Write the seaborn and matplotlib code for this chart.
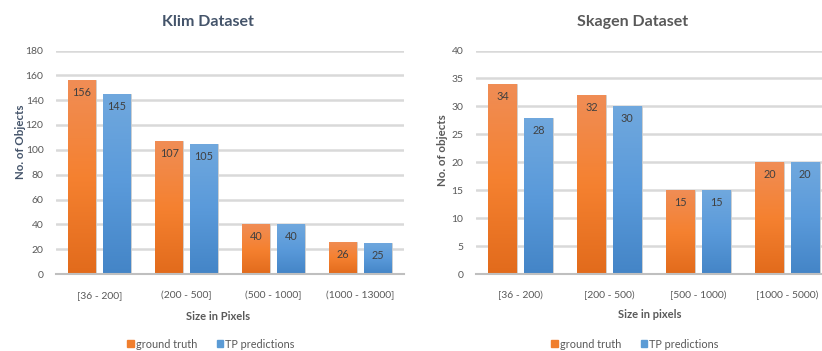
import numpy as np
import pandas as pd
import matplotlib
matplotlib.use("Agg")
import matplotlib.pyplot as plt
from matplotlib.colors import LinearSegmentedColormap
import seaborn as sns

# ---- data ----
klim_bins = ["[36 - 200]", "(200 - 500]", "(500 - 1000]", "(1000 - 13000]"]
klim_truth = [156, 107, 40, 26]
klim_tp = [145, 105, 40, 25]

skagen_bins = ["[36 - 200)", "[200 - 500)", "[500 - 1000)", "[1000 - 5000)"]
skagen_truth = [34, 32, 15, 20]
skagen_tp = [28, 30, 15, 20]

series = ["ground truth", "TP predictions"]

sns.set_theme(style="white")
plt.rcParams['font.family'] = ['Lato', 'DejaVu Sans']

ORANGE = "#F07F2E"
BLUE = "#5B9BD5"
grad = {
    ORANGE: LinearSegmentedColormap.from_list("o", ["#E26B1C", "#F58130", "#F08D55"]),
    BLUE: LinearSegmentedColormap.from_list("b", ["#4485C7", "#5A9ADA", "#70A8DE"]),
}


def make_df(bins, truth, tp):
    return pd.DataFrame({
        "bin": bins * 2,
        "count": truth + tp,
        "series": [series[0]] * len(bins) + [series[1]] * len(bins),
    })


def draw(ax, df, ymax, step):
    sns.barplot(data=df, x="bin", y="count", hue="series", ax=ax,
                palette=[ORANGE, BLUE], width=0.8, gap=0.2, legend=False,
                edgecolor="#D0D0D0", linewidth=0.6)
    ax.set_yticks(np.arange(0, ymax + 1, step))
    ax.yaxis.grid(True, color="#D9D9D9", linewidth=1.8)
    ax.set_axisbelow(True)
    for s in ["top", "right", "left"]:
        ax.spines[s].set_visible(False)
    ax.spines["bottom"].set_color("#BFBFBF")
    ax.spines["bottom"].set_linewidth(1.5)
    ax.tick_params(axis="both", length=0, labelsize=7.5, colors="#595959")
    ax.tick_params(axis="y", pad=9)
    ax.tick_params(axis="x", pad=12)
    ax.set_xlabel("")
    ax.set_ylabel("")
    # gradient fill of bars, like the Excel original
    for cont, col in zip(ax.containers, [ORANGE, BLUE]):
        for p in cont.patches:
            x0, y0 = p.get_x(), p.get_y()
            w, h = p.get_width(), p.get_height()
            im = ax.imshow(np.linspace(0, 1, 100).reshape(-1, 1), cmap=grad[col],
                           origin="lower", aspect="auto",
                           extent=[x0, x0 + w, y0, y0 + h], zorder=p.get_zorder() + 0.1)
            im.set_clip_path(p)
        ax.bar_label(cont, padding=-13, fontsize=7.8, color="#404040")
    ax.set_xlim(-0.5, 3.5)
    ax.set_ylim(0, ymax)


fig = plt.figure(figsize=(8.22, 3.51), dpi=100)
ax1 = fig.add_axes([56 / 822, 1 - 274 / 351, 348 / 822, 223.5 / 351])
ax2 = fig.add_axes([476 / 822, 1 - 274 / 351, 356 / 822, 223.5 / 351])

draw(ax1, make_df(klim_bins, klim_truth, klim_tp), 180, 20)
draw(ax2, make_df(skagen_bins, skagen_truth, skagen_tp), 40, 5)


def ftext(x, y, s, **kw):
    fig.text(x / 822, 1 - y / 351, s, ha="center", va="center", **kw)


ftext(208, 22, "Klim Dataset", fontsize=11.5, fontweight="bold", color="#44546A")
ftext(633, 22, "Skagen Dataset", fontsize=11.5, fontweight="bold", color="#595959")
ftext(218, 316, "Size in Pixels", fontsize=8, fontweight="bold", color="#595959")
ftext(650, 315, "Size in pixels", fontsize=8, fontweight="bold", color="#595959")
ftext(20, 142, "No. of Objects", fontsize=8.3, fontweight="bold", color="#44546A", rotation=90)
ftext(443, 150, "No. of objects", fontsize=8.3, fontweight="bold", color="#595959", rotation=90)

handles = [plt.Rectangle((0, 0), 1, 1, color=ORANGE), plt.Rectangle((0, 0), 1, 1, color=BLUE)]
for cx in [211, 635]:
    fig.legend(handles, series, loc="center", bbox_to_anchor=(cx / 822, 1 - 344 / 351),
               ncol=2, frameon=False, fontsize=7.8, handlelength=0.6, handleheight=0.6,
               handletextpad=0.2, columnspacing=1.8, labelcolor="#595959")

fig.savefig("out.png", dpi=100)
